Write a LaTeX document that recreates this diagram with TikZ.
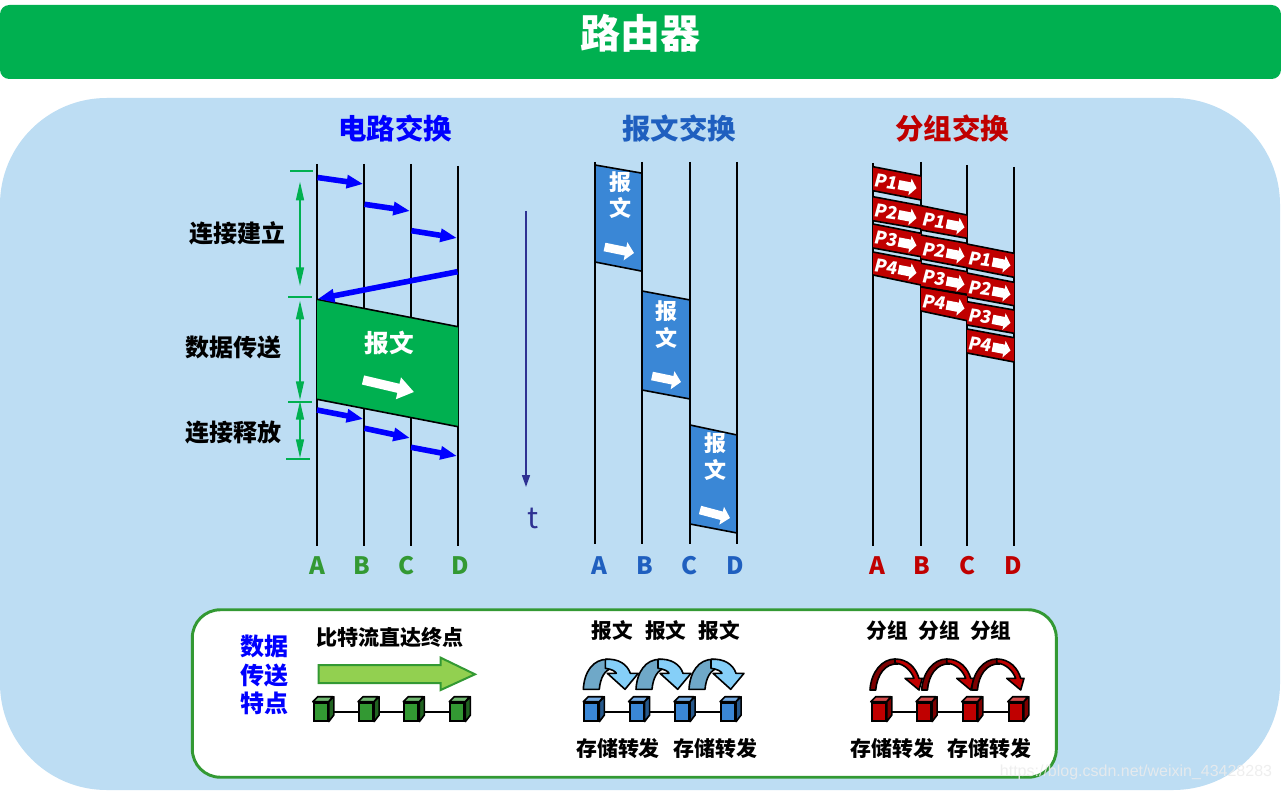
\documentclass[tikz,border=0pt]{standalone}
\usepackage{fontspec}
\setmainfont{Noto Sans CJK SC}
\newfontfamily\wmfont{Liberation Sans}
\usetikzlibrary{arrows.meta,calc}
\definecolor{titlegreen}{HTML}{00B050}
\definecolor{panelblue}{HTML}{BDDDF3}
\definecolor{boxgreen}{HTML}{339933}
\definecolor{msgblue}{HTML}{3A87D6}
\definecolor{labelblue}{HTML}{1F5FBF}
\definecolor{pktred}{HTML}{C00000}
\definecolor{timeblue}{HTML}{2E3192}
\definecolor{archdark}{HTML}{6FA8C8}
\definecolor{archlight}{HTML}{85CFF8}
\definecolor{lightgreen}{HTML}{92D050}
\newcommand\fs[1]{\fontsize{#1}{#1}\selectfont}
\tikzset{
  x=0.75pt,y=-0.75pt,
  txt/.style={inner sep=0pt,font=\fs{18}\bfseries,text=black},
  life/.style={black,line width=1.5pt},
  sigarrow/.style={blue,line width=4.2pt,-{Triangle[length=12.5pt,width=9.5pt]}},
  bigwhite/.style={white,line width=7pt,-{Triangle[length=12pt,width=16pt]}},
  midwhite/.style={white,line width=6.5pt,-{Triangle[length=6.5pt,width=13.5pt]}},
  pktwhite/.style={white,line width=7pt,-{Triangle[length=5pt,width=12.5pt]}},
  span/.style={titlegreen,line width=1.1pt,{Triangle[length=14pt,width=6pt]}-{Triangle[length=14pt,width=6pt]}},
  tick/.style={titlegreen,line width=1.5pt},
  edge/.style={black,line width=1.2pt},
  cubefront/.style={draw=black,line width=1.5pt,inner sep=0pt,minimum width=10.6pt,minimum height=13.4pt,anchor=north west},
  cubeside/.style={draw=black,line width=1.2pt,line join=round},
  link/.style={black,line width=1.4pt},
}
% block connector between two named coordinates
\newcommand\conn[4]{\coordinate (#1s) at (#3);\coordinate (#1e) at (#4);\draw[#2] (#1s) -- (#1e);}
% band: x-left, x-right, top-left y, top-right y, bottom-left y, bottom-right y, fill
\newcommand\band[7]{\fill[#7] (#1,#3) -- (#2,#4) -- (#2,#6) -- (#1,#5) -- cycle;
  \draw[edge] (#1,#3) -- (#2,#4); \draw[edge] (#1,#5) -- (#2,#6);}
% packet: name, x-left, x-right, ytl, ytr, ybl, ybr, label
\newcommand\pkt[8]{\band{#2}{#3}{#4}{#5}{#6}{#7}{pktred}
  \pgfmathsetmacro\ym{(#4+#6)/2}
  \node[inner sep=0pt,text=white,font=\fs{13.3}\bfseries,rotate=-8,xslant=.12] (#1) at (#2+13.3,\ym+3.2) {#8};
  \conn{#1a}{pktwhite}{#2+25.5,\ym+6}{#2+43.5,\ym+9.5}}
% cube: name, x, y, front, top, side
\newcommand\cube[6]{
  \node[cubefront,fill=#4] (#1) at (#2,#3) {};
  \draw[cubeside,fill=#5] (#1.north west) -- ++(5,-5) -- ++(15,0) -- (#1.north east) -- cycle;
  \draw[cubeside,fill=#6] (#1.north east) -- ++(5,-5) -- ++(0,18.3) -- (#1.south east) -- cycle;}
% blue u-turn arrow
\newcommand\barch[2]{\begin{scope}[shift={(#1,#2)}]
  \draw[cubeside,fill=archdark] (0,0) .. controls (1,-18) and (10,-30) .. (24,-30) -- (29,-21) .. controls (22,-20) and (17,-12) .. (16,0) -- cycle;
  \draw[cubeside,fill=archlight] (22,-30) .. controls (35,-31) and (44,-25) .. (47,-16) -- (55,-16) -- (41.7,0) -- (24,-16) -- (33,-16) .. controls (32,-18) and (29,-20) .. (22,-21) -- cycle;
\end{scope}}
% red u-turn arrow
\newcommand\rarch[2]{\begin{scope}[shift={(#1,#2)}]
  \draw[cubeside,fill=pktred!65!black] (0,0) .. controls (1,-18) and (12,-31) .. (25,-31) -- (28,-26) .. controls (15,-27) and (7,-15) .. (5.7,0) -- cycle;
  \draw[cubeside,fill=pktred] (25,-31) .. controls (38,-31) and (46,-22) .. (49,-11.7) -- (52.3,-11.7) -- (49,0) -- (35,-11.7) -- (44,-11.7) .. controls (41,-19) and (35,-26) .. (25,-27) -- cycle;
\end{scope}}
\begin{document}
\begin{tikzpicture}
\useasboundingbox (0,0) rectangle (1281,791);
\fill[white] (0,0) rectangle (1281,791);
% backgrounds
\fill[panelblue,rounded corners=80pt] (0,98) rectangle (1280,790);
\node[fill=titlegreen,rounded corners=7pt,minimum width=960.75pt,minimum height=55.5pt,inner sep=0pt] (bar) at (640.5,42) {};
\node[txt,text=white,font=\fs{30}\bfseries] (title) at (640,33) {路由器};
% section titles
\node[txt,text=blue,font=\fs{21.3}\bfseries] (t1) at (395,129) {电路交换};
\node[txt,text=labelblue,font=\fs{21.3}\bfseries] (t2) at (679,129) {报文交换};
\node[txt,text=pktred,font=\fs{21.3}\bfseries] (t3) at (952,129) {分组交换};
% ---------- circuit switching
\conn{la}{life}{317,164}{317,546}
\conn{lb}{life}{364,164}{364,546}
\conn{lc}{life}{411,164}{411,546}
\conn{ld}{life}{458,166}{458,546}
\band{317}{458}{299.3}{326.7}{399.3}{426.7}{titlegreen}
\conn{s1}{sigarrow}{317.5,177.5}{363.3,184}
\conn{s2}{sigarrow}{364.5,204.3}{410,211}
\conn{s3}{sigarrow}{411.5,230.7}{457,238}
\conn{s4}{sigarrow}{457.5,271.7}{317.7,299}
\conn{s5}{sigarrow}{317,410}{363.3,419}
\conn{s6}{sigarrow}{364.5,428.3}{410,438}
\conn{s7}{sigarrow}{411,447.3}{457,456}
\node[txt,text=white,font=\fs{18.5}\bfseries] (m0) at (389,343) {报文};
\conn{w0}{bigwhite}{363,380}{414,392}
\conn{k1}{tick}{290,170.7}{312.7,170.7}
\conn{k2}{tick}{288,296.7}{311.7,296.7}
\conn{k3}{tick}{288,401.7}{311.7,401.7}
\conn{k4}{tick}{286,458.7}{310,458.7}
\conn{d1}{span}{300,181.7}{300,286}
\conn{d2}{span}{300,300.7}{300,400}
\conn{d3}{span}{300,401}{300,458}
\node[txt] (p1) at (237,233) {连接建立};
\node[txt] (p2) at (233,348) {数据传送};
\node[txt] (p3) at (233,432) {连接释放};
% time axis
\conn{ta}{timeblue,line width=1.2pt,-{Triangle[length=9pt,width=6pt]}}{526,211}{526,487}
\node[inner sep=0pt,text=timeblue,font=\fs{22}] (tt) at (533,518) {t};
% letters
\foreach \n/\x/\l in {a1/317/A,b1/362/B,c1/406/C,d1/460/D}
  \node[txt,text=boxgreen,font=\fs{18}\bfseries] (\n) at (\x,566) {\l};
\foreach \n/\x/\l in {a2/599/A,b2/645/B,c2/689/C,d2/735/D}
  \node[txt,text=labelblue,font=\fs{18}\bfseries] (\n) at (\x,566) {\l};
\foreach \n/\x/\l in {a3/877/A,b3/922/B,c3/967/C,d3/1013/D}
  \node[txt,text=pktred,font=\fs{18}\bfseries] (\n) at (\x,566) {\l};
% ---------- message switching
\band{595}{641}{165}{173}{262}{271}{msgblue}
\band{642}{690}{291}{300}{390}{399}{msgblue}
\band{690}{737}{425}{435}{524}{533}{msgblue}
\conn{mla}{life}{595,162}{595,544}
\conn{mlb}{life}{641.5,162}{641.5,544}
\conn{mlc}{life}{689.7,162}{689.7,544}
\conn{mld}{life}{737,162}{737,544}
\foreach \n/\x/\ya/\yb in {ma/620/182/208,mb/666/311/338,mc/715/443/470}{
  \node[txt,text=white,font=\fs{16.5}\bfseries] (\n1) at (\x,\ya) {报};
  \node[txt,text=white,font=\fs{16.5}\bfseries] (\n2) at (\x,\yb) {文};
}
\conn{wa}{midwhite}{604.5,247}{634,253}
\conn{wb}{midwhite}{652,376}{681,382}
\conn{wc}{midwhite}{700,510}{730,518}
% ---------- packet switching
\conn{pla}{life}{873,163}{873,546}
\conn{plb}{life}{921,162}{921,546}
\conn{plc}{life}{967,165}{967,546}
\conn{pld}{life}{1014,167}{1014,546}
\pkt{a1p}{873}{921}{166.7}{176}{190.7}{200}{P1}
\pkt{a2p}{873}{921}{196.7}{205.7}{220.7}{229}{P2}
\pkt{a3p}{873}{921}{224}{233.3}{248}{256.7}{P3}
\pkt{a4p}{873}{921}{252}{261}{275}{285}{P4}
\pkt{b1p}{921}{967}{205.7}{215}{230}{238.3}{P1}
\pkt{b2p}{921}{967}{235}{243.3}{259}{267.7}{P2}
\pkt{b3p}{921}{967}{263.3}{271.7}{286.7}{294.3}{P3}
\pkt{b4p}{921}{967}{287}{295}{311}{320.7}{P4}
\pkt{c1p}{967}{1014}{244}{253.3}{268}{277.3}{P1}
\pkt{c2p}{967}{1014}{273}{282.3}{297}{305.7}{P2}
\pkt{c3p}{967}{1014}{301.7}{310}{325}{333.3}{P3}
\pkt{c4p}{967}{1014}{329}{337.7}{353}{362}{P4}
% ---------- legend box
\node[draw=boxgreen,fill=white,line width=2.2pt,rounded corners=21pt,minimum width=648pt,minimum height=125.6pt,inner sep=0pt] (legend) at (624.3,693.5) {};
\node[txt,text=blue] (f1) at (264,646) {数据};
\node[txt,text=blue] (f2) at (264,675) {传送};
\node[txt,text=blue] (f3) at (264,703) {特点};
\node[txt,font=\fs{15.8}\bfseries] (bit) at (390,637) {比特流直达终点};
\draw[boxgreen,fill=lightgreen,line width=1.5pt,line join=miter]
  (318.7,665) -- (440.7,665) -- (440.7,657.7) -- (475,674.3) -- (440.7,690) -- (440.7,683) -- (318.7,683) -- cycle;
\node[txt,font=\fs{15.5}\bfseries] (m1) at (612,630.7) {报文};
\node[txt,font=\fs{15.5}\bfseries] (m2) at (665.7,630.7) {报文};
\node[txt,font=\fs{15.5}\bfseries] (m3) at (719,630.7) {报文};
\node[txt,font=\fs{15.7}\bfseries] (sf1) at (618,748.3) {存储转发};
\node[txt,font=\fs{15.7}\bfseries] (sf2) at (715.7,748.3) {存储转发};
\node[txt,font=\fs{15.5}\bfseries] (g1t) at (887.3,630.7) {分组};
\node[txt,font=\fs{15.5}\bfseries] (g2t) at (939,630.7) {分组};
\node[txt,font=\fs{15.5}\bfseries] (g3t) at (990.7,630.7) {分组};
\node[txt,font=\fs{15.7}\bfseries] (sf3) at (892.3,748.3) {存储转发};
\node[txt,font=\fs{15.7}\bfseries] (sf4) at (989.3,748.3) {存储转发};
% arches
\barch{583.3}{689.3}\barch{636}{689.3}\barch{689}{689.3}
\rarch{870}{690}\rarch{921.7}{690}\rarch{971.7}{690}
% cube rows
\cube{g1}{312.7}{701.7}{boxgreen}{boxgreen!70!white}{boxgreen!65!black}
\cube{g2}{358}{701.7}{boxgreen}{boxgreen!70!white}{boxgreen!65!black}
\cube{g3}{403.3}{701.7}{boxgreen}{boxgreen!70!white}{boxgreen!65!black}
\cube{g4}{449.3}{701.7}{boxgreen}{boxgreen!70!white}{boxgreen!65!black}
\cube{u1}{583.3}{701.7}{msgblue}{msgblue!70!white}{msgblue!65!black}
\cube{u2}{628.5}{701.7}{msgblue}{msgblue!70!white}{msgblue!65!black}
\cube{u3}{674}{701.7}{msgblue}{msgblue!70!white}{msgblue!65!black}
\cube{u4}{720}{701.7}{msgblue}{msgblue!70!white}{msgblue!65!black}
\cube{r1}{870.7}{701.7}{pktred}{pktred!70!white}{pktred!65!black}
\cube{r2}{916}{701.7}{pktred}{pktred!70!white}{pktred!65!black}
\cube{r3}{961.7}{701.7}{pktred}{pktred!70!white}{pktred!65!black}
\cube{r4}{1007.7}{701.7}{pktred}{pktred!70!white}{pktred!65!black}
\foreach \a/\b in {g1/g2,g2/g3,g3/g4,u1/u2,u2/u3,u3/u4,r1/r2,r2/r3,r3/r4}
  \draw[link] ([xshift=3.75pt]\a.east) -- (\b.west);
% watermark
\node[inner sep=0pt,text=gray!15,opacity=.85,font=\wmfont\fs{12}] (wm) at (1136,772.5) {https://blog.csdn.net/weixin\_43428283};
\end{tikzpicture}
\end{document}
